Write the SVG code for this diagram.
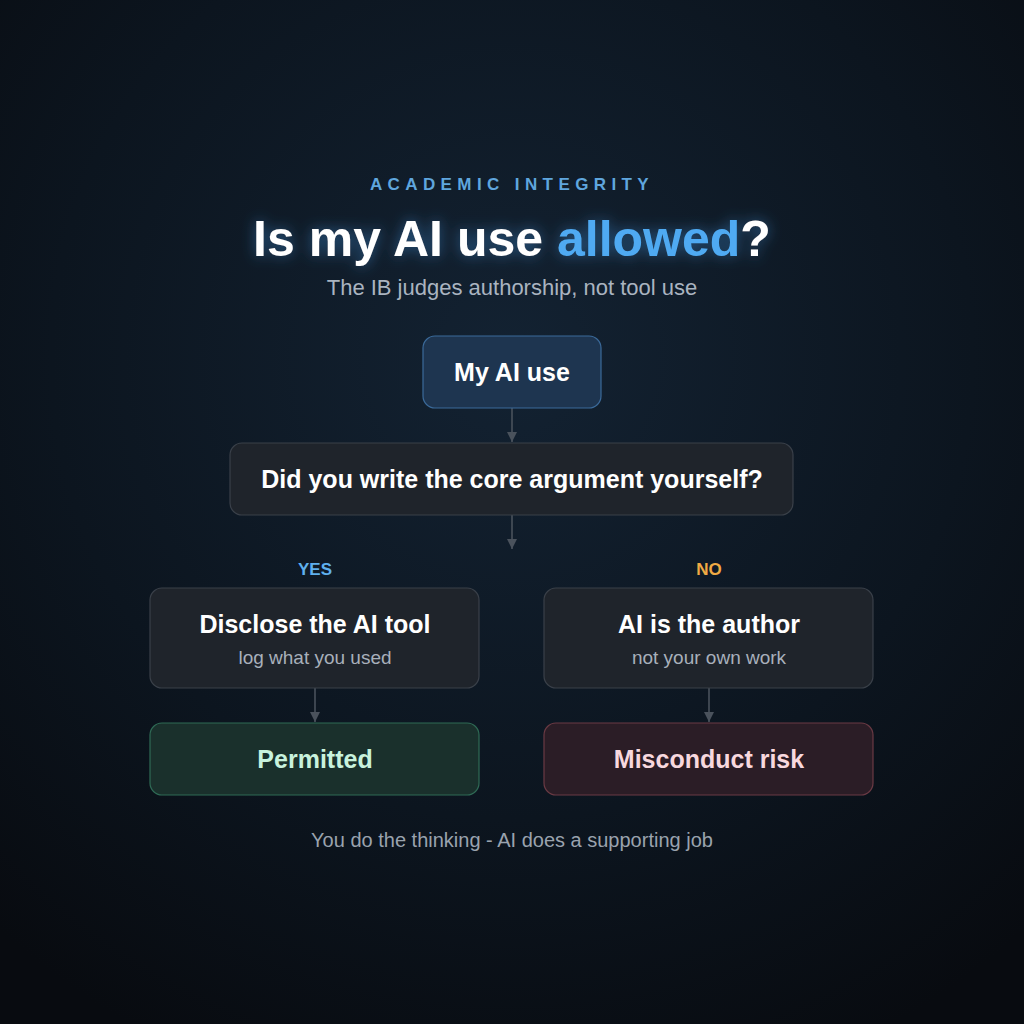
<svg xmlns="http://www.w3.org/2000/svg" width="1024" height="1024" viewBox="0 0 1024 1024">
<defs>
<radialGradient id="bg" cx="0.5" cy="0.35" r="0.75">
<stop offset="0" stop-color="#132232"/>
<stop offset="0.6" stop-color="#0c151f"/>
<stop offset="1" stop-color="#080b10"/>
</radialGradient>
<filter id="glow" x="-20%" y="-50%" width="140%" height="200%">
<feGaussianBlur in="SourceAlpha" stdDeviation="7" result="b"/>
<feFlood flood-color="#3f8fd8" flood-opacity="0.55"/>
<feComposite in2="b" operator="in" result="g"/>
<feMerge><feMergeNode in="g"/><feMergeNode in="SourceGraphic"/></feMerge>
</filter>
<marker id="arr" viewBox="0 0 10 10" refX="10" refY="5" markerWidth="10" markerHeight="10" markerUnits="userSpaceOnUse" orient="auto">
<path d="M0,0 L10,5 L0,10 z" fill="#4a525c"/>
</marker>
<style>
text{font-family:"Liberation Sans",Arial,sans-serif;text-anchor:middle}
.box{fill:#1f242b;stroke:#3a4049;stroke-width:1.2}
.h{font-size:25px;font-weight:bold;fill:#ffffff}
.s{font-size:19px;fill:#a8b0bb}
.edge{stroke:#4a525c;stroke-width:1.6;fill:none;marker-end:url(#arr)}
</style>
</defs>
<rect width="1024" height="1024" fill="url(#bg)"/>
<text x="512" y="190" font-size="17" font-weight="bold" fill="#5fa6de" letter-spacing="5.4">ACADEMIC INTEGRITY</text>
<text x="512" y="256" font-size="50" font-weight="bold" fill="#ffffff" filter="url(#glow)">Is my AI use <tspan fill="#4faaf2">allowed</tspan>?</text>
<text x="512" y="295" font-size="22" fill="#aab4c0">The IB judges authorship, not tool use</text>
<g id="connectors">
<line class="edge" x1="512" y1="408" x2="512" y2="442"/>
<line class="edge" x1="512" y1="515" x2="512" y2="549"/>
<line class="edge" x1="315" y1="688" x2="315" y2="722"/>
<line class="edge" x1="709" y1="688" x2="709" y2="722"/>
</g>
<g id="start">
<rect x="423" y="336" width="178" height="72" rx="12" fill="#1e3550" stroke="#3b6a9a" stroke-width="1.2"/>
<text x="512" y="381" class="h">My AI use</text>
</g>
<g id="question">
<rect class="box" x="230" y="443" width="563" height="72" rx="12"/>
<text x="512" y="488" class="h">Did you write the core argument yourself?</text>
</g>
<g id="yes-label"><text x="315" y="575" font-size="17" font-weight="bold" fill="#5fb0ee">YES</text></g>
<g id="no-label"><text x="709" y="575" font-size="17" font-weight="bold" fill="#f0aa44">NO</text></g>
<g id="disclose">
<rect class="box" x="150" y="588" width="329" height="100" rx="12"/>
<text x="315" y="633" class="h">Disclose the AI tool</text>
<text x="315" y="664" class="s">log what you used</text>
</g>
<g id="author">
<rect class="box" x="544" y="588" width="329" height="100" rx="12"/>
<text x="709" y="633" class="h">AI is the author</text>
<text x="709" y="664" class="s">not your own work</text>
</g>
<g id="permitted">
<rect x="150" y="723" width="329" height="72" rx="12" fill="#1a302c" stroke="#2f6a55" stroke-width="1.2"/>
<text x="315" y="768" class="h" style="fill:#c8f2dd">Permitted</text>
</g>
<g id="misconduct">
<rect x="544" y="723" width="329" height="72" rx="12" fill="#2b1d26" stroke="#6a3a44" stroke-width="1.2"/>
<text x="709" y="768" class="h" style="fill:#f8d8de">Misconduct risk</text>
</g>
<text x="512" y="847" font-size="20" fill="#9aa3ae">You do the thinking - AI does a supporting job</text>
</svg>
